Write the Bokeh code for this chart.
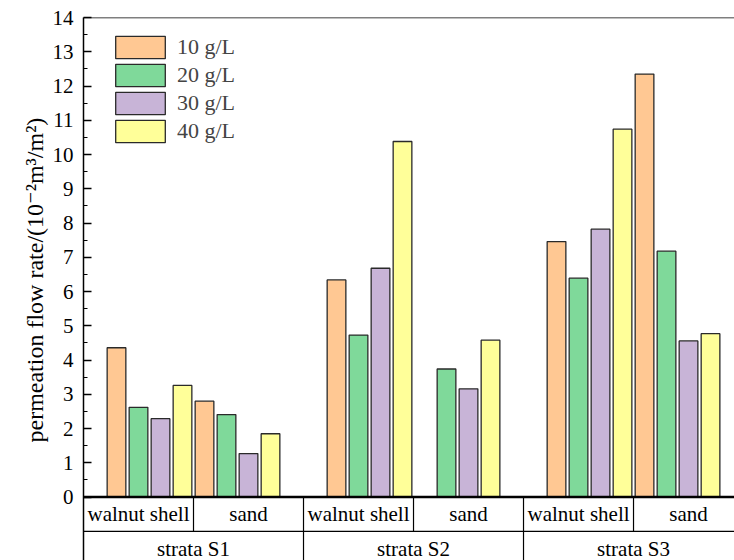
from bokeh.plotting import figure
from bokeh.models import (FixedTicker, Span, Title, Legend, LegendItem,
                          ColumnDataSource, Range1d)
from bokeh.core.properties import value
from bokeh.embed import file_html
from bokeh.resources import INLINE

# ---------------- data ----------------
strata = ["strata S1", "strata S2", "strata S3"]
substrates = ["walnut shell", "sand"]
concentrations = ["10 g/L", "20 g/L", "30 g/L", "40 g/L"]
# order: S1-walnut, S1-sand, S2-walnut, S2-sand, S3-walnut, S3-sand
flow_10 = [4.36, 2.80, 6.34, 0.0, 7.46, 12.35]
flow_20 = [2.62, 2.41, 4.73, 3.74, 6.39, 7.18]
flow_30 = [2.29, 1.27, 6.68, 3.16, 7.82, 4.56]
flow_40 = [3.26, 1.85, 10.38, 4.58, 10.74, 4.77]
series = [flow_10, flow_20, flow_30, flow_40]
colors = ["#FFC893", "#7FD99A", "#C8B4D7", "#FFFF99"]
y_ticks = list(range(0, 15))
y_minor = [t + 0.5 for t in range(0, 14)]
y_title = "permeation flow rate/(10\u207b\u00b2m\u00b3/m\u00b2)"

FONT = "Liberation Serif, Times New Roman, DejaVu Serif, serif"
YMIN = -1.85
XMAX = 2.959

p = figure(width=734, height=560, x_range=Range1d(0, XMAX), y_range=Range1d(YMIN, 14),
           x_axis_location=None, output_backend="svg", toolbar_location=None,
           min_border_left=83, min_border_right=0, min_border_top=17, min_border_bottom=0)
p.outline_line_color = None
p.grid.visible = False
p.background_fill_color = "white"
p.border_fill_color = "white"

yax = p.yaxis[0]
yax.ticker = FixedTicker(ticks=y_ticks, minor_ticks=y_minor)
yax.major_tick_in = 8
yax.major_tick_out = 0
yax.minor_tick_in = 4
yax.minor_tick_out = 0
yax.axis_line_width = 1.5
yax.major_tick_line_width = 1.5
yax.minor_tick_line_width = 1.2
yax.axis_line_color = "black"
yax.major_label_text_font = FONT
yax.major_label_text_font_size = "21px"
yax.major_label_text_color = "black"
yax.major_label_standoff = 10

n_sub = len(substrates)
n_c = len(concentrations)
n_s = len(strata)
step = 0.1
bar_w = 0.085

renderers = []
for k, (vals, col) in enumerate(zip(series, colors)):
    xs, tops = [], []
    for i in range(n_s):
        for j in range(n_sub):
            v = vals[i * n_sub + j]
            if v > 0:
                xs.append(i + 0.15 + step * (n_c * j + k))
                tops.append(v)
    src = ColumnDataSource(dict(x=xs, top=tops))
    r = p.vbar(x="x", top="top", width=bar_w, bottom=0, source=src,
               fill_color=col, line_color="#2a2a2a", line_width=1.3)
    renderers.append(r)

# top border and thick baseline
p.add_layout(Span(location=14, dimension="width", line_color="black", line_width=1.5))
p.add_layout(Span(location=0, dimension="width", line_color="black", line_width=2.5))

# category table below the axis
p.segment(x0=[0], y0=[-1], x1=[n_s], y1=[-1], line_color="black", line_width=1.2)
sub_div = [i + (j + 1) / n_sub for i in range(n_s) for j in range(n_sub - 1)]
p.segment(x0=sub_div, y0=[0] * len(sub_div), x1=sub_div, y1=[-1] * len(sub_div),
          line_color="black", line_width=1.2)
str_div = [i + 1 for i in range(n_s - 1)]
p.segment(x0=str_div, y0=[0] * len(str_div), x1=str_div, y1=[YMIN] * len(str_div),
          line_color="black", line_width=1.2)

sub_x = [i + (j + 0.5) / n_sub for i in range(n_s) for j in range(n_sub)]
sub_t = [substrates[j] for i in range(n_s) for j in range(n_sub)]
p.text(x=sub_x, y=[-0.5] * len(sub_x), text=sub_t, text_align="center",
       text_baseline="middle", text_font=value(FONT), text_font_size="21px",
       text_color="black")
str_x = [i + 0.5 for i in range(n_s)]
p.text(x=str_x, y=[-1.5] * n_s, text=strata, text_align="center",
       text_baseline="middle", text_font=value(FONT), text_font_size="21px",
       text_color="black")

# y-axis title
p.add_layout(Title(text=y_title, align="left", offset=118, standoff=4,
                   text_font=FONT, text_font_size="24px", text_font_style="normal",
                   text_color="black"), "left")

legend = Legend(items=[LegendItem(label=c, renderers=[r]) for c, r in zip(concentrations, renderers)],
                location=(26, 415), glyph_width=62, glyph_height=28, spacing=0,
                padding=0, margin=0, border_line_color=None, background_fill_alpha=0,
                label_text_font=FONT, label_text_font_size="22px", label_standoff=6,
                label_height=24)
p.add_layout(legend)

open("out.html", "w").write(file_html(p, INLINE))
